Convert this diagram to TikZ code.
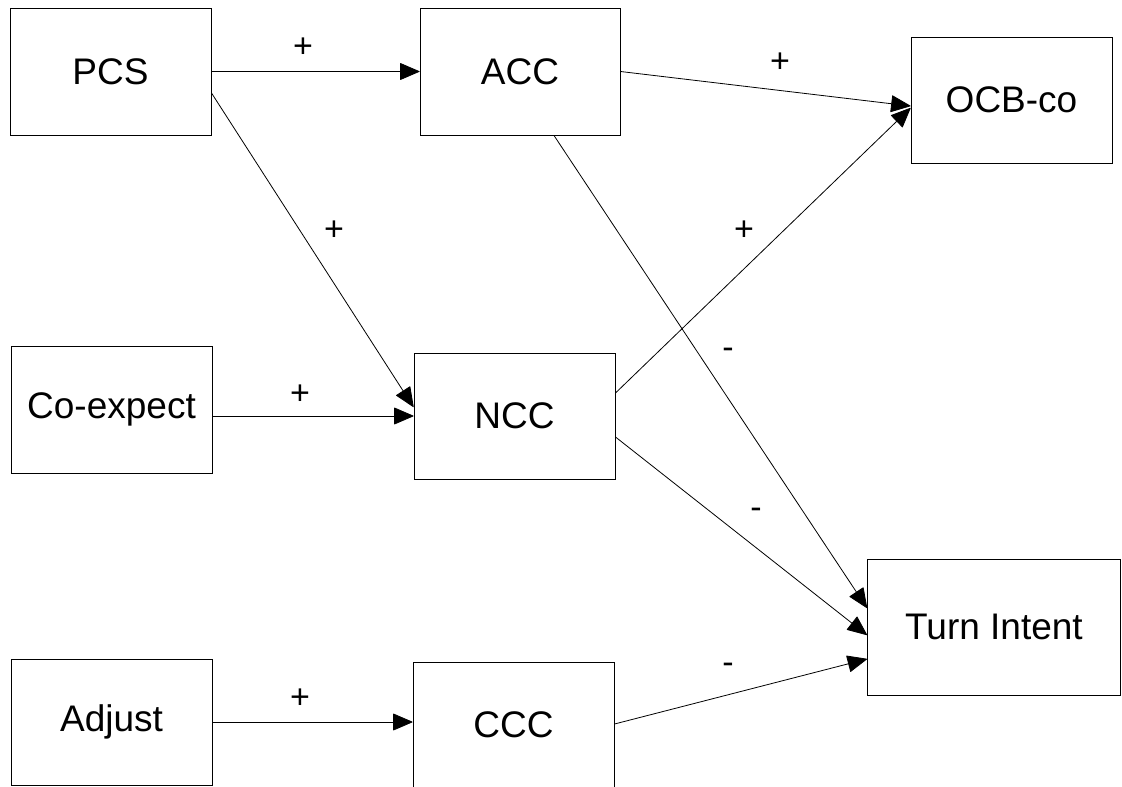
\documentclass[tikz,border=0pt]{standalone}
\usepackage{fontspec}
\setmainfont{Liberation Sans}
\usetikzlibrary{arrows.meta}
\begin{document}
\begin{tikzpicture}[x=1pt,y=-1pt,
  box/.style={draw=black,line width=1pt,rectangle,inner sep=0pt,font=\fontsize{37}{44}\selectfont},
  lbl/.style={inner sep=0pt,font=\fontsize{34}{40}\selectfont},
  link/.style={draw=black,line width=0.8pt,-{Triangle[length=20pt,width=17pt,round]}}]
\useasboundingbox (0,0) rectangle (1122,787);
\node[box,minimum width=201pt,minimum height=127pt] (PCS) at (110.5,71.5) {PCS};
\node[box,minimum width=200pt,minimum height=127pt] (ACC) at (520,71.5) {ACC};
\node[box,minimum width=201pt,minimum height=126pt] (OCB) at (1011.5,100) {OCB-co};
\node[box,minimum width=201pt,minimum height=127pt] (COE) at (111.5,409.5) {Co-expect};
\node[box,minimum width=201pt,minimum height=126pt] (NCC) at (514.5,416) {NCC};
\node[box,minimum width=201pt,minimum height=126pt] (ADJ) at (111.5,722) {Adjust};
\node[box,minimum width=201pt,minimum height=126pt] (CCC) at (513.5,725) {CCC};
\node[box,minimum width=253pt,minimum height=136pt] (TI) at (994,627) {Turn Intent};

\draw[link] (PCS.east) -- (ACC.west);
\draw[link] (ACC.east) -- ([yshift=-6pt]OCB.west);
\draw[link] ([yshift=-21.5pt]PCS.east) -- ([yshift=9pt]NCC.west);
\draw[link] (NCC.west -| COE.east) -- (NCC.west);
\draw[link] ([yshift=23pt]NCC.east) -- ([yshift=-8pt]OCB.west);
\draw[link] ([xshift=34pt]ACC.south) -- ([yshift=19pt]TI.west);
\draw[link] ([yshift=-21pt]NCC.east) -- ([yshift=-8pt]TI.west);
\draw[link] (ADJ.east) -- (ADJ.east -| CCC.west);
\draw[link] ([yshift=1pt]CCC.east) -- ([yshift=-32pt]TI.west);

\node[lbl] (l1) at (303,48) {+};
\node[lbl] (l2) at (780,63) {+};
\node[lbl] (l3) at (334,231) {+};
\node[lbl] (l4) at (744,231) {+};
\node[lbl] (l5) at (300,395) {+};
\node[lbl] (l6) at (728,353) {-};
\node[lbl] (l7) at (756,513) {-};
\node[lbl] (l8) at (300,699) {+};
\node[lbl] (l9) at (728,668) {-};
\end{tikzpicture}
\end{document}
